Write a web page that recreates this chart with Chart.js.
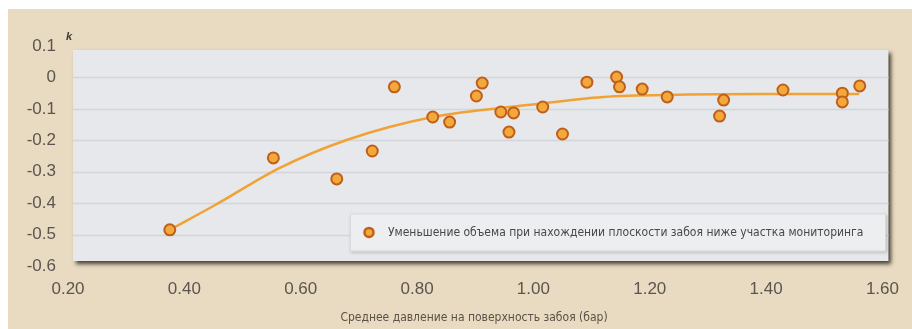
<!DOCTYPE html>
<html>
<head>
<meta charset="utf-8">
<script src="https://cdn.jsdelivr.net/npm/chart.js@4/dist/chart.umd.min.js"></script>
<style>
  html, body { margin: 0; padding: 0; background: #ffffff; }
  #wrap { position: relative; width: 912px; height: 329px; }
</style>
</head>
<body>
<div id="wrap"><canvas id="chart" width="912" height="329"></canvas></div>
<script>
// Measured points: mean face pressure (bar) vs. volume change coefficient k
const pressure = [0.375, 0.553, 0.662, 0.723, 0.761, 0.827, 0.856, 0.902, 0.912, 0.944,
                  0.958, 0.966, 1.016, 1.050, 1.092, 1.143, 1.148, 1.187, 1.230, 1.320,
                  1.327, 1.429, 1.531, 1.531, 1.561];
const volumeK  = [-0.485, -0.256, -0.323, -0.234, -0.030, -0.126, -0.142, -0.059, -0.018, -0.110,
                  -0.174, -0.113, -0.094, -0.180, -0.015, 0.001, -0.030, -0.037, -0.062, -0.123,
                  -0.072, -0.040, -0.050, -0.078, -0.027];

// Trend line through the cloud
const trendX = [0.375, 0.453, 0.565, 0.679, 0.827, 0.99, 1.12, 1.25, 1.40, 1.56];
const trendK = [-0.485, -0.406, -0.287, -0.199, -0.126, -0.088, -0.062, -0.055, -0.053, -0.053];

const xTicks = [0.2, 0.4, 0.6, 0.8, 1.0, 1.2, 1.4, 1.6];
const yTicks = [0.1, 0, -0.1, -0.2, -0.3, -0.4, -0.5, -0.6];

const seriesLabel = 'Уменьшение объема при нахождении плоскости забоя ниже участка мониторинга';
const xTitle = 'Среднее давление на поверхность забоя (бар)';
const yUnit = 'k';

const BEIGE = '#e9dbc2';
const PLOT_BG = '#e6e8eb';
const GRID = '#d2d6db';
const TICK_COLOR = '#5b554e';
const POINT_FILL = '#f3a83c';
const POINT_EDGE = '#c05f1a';
const LINE_COLOR = '#f0a236';

// Page background, shadowed plot panel, grid lines, legend box and titles
const panelPlugin = {
  id: 'panel',
  beforeDraw(chart) {
    const { ctx, chartArea: a, scales } = chart;
    ctx.save();
    ctx.fillStyle = '#ffffff';
    ctx.fillRect(0, 0, chart.width, chart.height);
    ctx.fillStyle = BEIGE;
    ctx.fillRect(8, 9, chart.width - 8, chart.height - 9);

    const L = a.left + 5, R = a.right + 6, T = a.top + 4, B = a.bottom - 5;
    ctx.shadowColor = 'rgba(45,35,25,0.85)';
    ctx.shadowBlur = 4;
    ctx.shadowOffsetX = 3;
    ctx.shadowOffsetY = 3;
    ctx.fillStyle = PLOT_BG;
    ctx.fillRect(L, T, R - L, B - T);
    ctx.shadowColor = 'transparent';

    ctx.strokeStyle = GRID;
    ctx.lineWidth = 1.5;
    yTicks.forEach(v => {
      const y = scales.y.getPixelForValue(v);
      if (y <= T + 2 || y >= B - 2) return;
      ctx.beginPath();
      ctx.moveTo(L, Math.round(y) + 0.5);
      ctx.lineTo(R, Math.round(y) + 0.5);
      ctx.stroke();
    });
    ctx.restore();
  },
  afterDatasetsDraw(chart) {
    const { ctx, chartArea: a, scales } = chart;
    ctx.save();
    const bx = a.left + 282, by = scales.y.getPixelForValue(-0.42) + 4;
    const bw = 536, bh = 38;
    ctx.shadowColor = 'rgba(80,80,80,0.35)';
    ctx.shadowBlur = 3;
    ctx.shadowOffsetX = 1;
    ctx.shadowOffsetY = 2;
    ctx.fillStyle = '#eceef0';
    ctx.fillRect(bx, by, bw, bh);
    ctx.shadowColor = 'transparent';
    ctx.strokeStyle = '#d6d9dd';
    ctx.lineWidth = 1;
    ctx.strokeRect(bx + 0.5, by + 0.5, bw - 1, bh - 1);

    ctx.beginPath();
    ctx.arc(bx + 19, by + bh / 2, 4.5, 0, Math.PI * 2);
    ctx.fillStyle = POINT_FILL;
    ctx.fill();
    ctx.lineWidth = 2.5;
    ctx.strokeStyle = POINT_EDGE;
    ctx.stroke();

    ctx.fillStyle = '#4a4846';
    ctx.font = '12px "DejaVu Sans Condensed", "DejaVu Sans", sans-serif';
    ctx.textBaseline = 'middle';
    ctx.textAlign = 'left';
    ctx.fillText(seriesLabel, bx + 38, by + bh / 2);

    ctx.fillStyle = '#5a5249';
    ctx.font = '12px "DejaVu Sans Condensed", "DejaVu Sans", sans-serif';
    ctx.textAlign = 'center';
    ctx.fillText(xTitle, 474, 318);

    ctx.fillStyle = '#3e3a36';
    ctx.font = 'italic bold 11px "Liberation Sans", Arial, sans-serif';
    ctx.textAlign = 'left';
    ctx.fillText(yUnit, a.left - 2, a.top - 9);
    ctx.restore();
  }
};

new Chart(document.getElementById('chart'), {
  type: 'scatter',
  data: {
    datasets: [
      {
        label: seriesLabel,
        data: pressure.map((p, i) => ({ x: p, y: volumeK[i] })),
        backgroundColor: POINT_FILL,
        borderColor: POINT_EDGE,
        borderWidth: 2,
        pointRadius: 5.5,
        order: 0
      },
      {
        type: 'line',
        label: 'trend',
        data: trendX.map((p, i) => ({ x: p, y: trendK[i] })),
        borderColor: LINE_COLOR,
        borderWidth: 2.5,
        pointRadius: 0,
        fill: false,
        cubicInterpolationMode: 'monotone',
        order: 1
      }
    ]
  },
  options: {
    responsive: false,
    animation: false,
    layout: { padding: { left: 0, right: 20, top: 46, bottom: 0 } },
    plugins: { legend: { display: false }, tooltip: { enabled: false } },
    scales: {
      x: {
        type: 'linear',
        min: 0.2, max: 1.6,
        afterBuildTicks: s => { s.ticks = xTicks.map(v => ({ value: v })); },
        afterFit: s => { s.height = 63; },
        grid: { display: false, drawTicks: false },
        border: { display: false },
        ticks: {
          padding: 13,
          color: TICK_COLOR,
          font: { family: '"Liberation Sans", Arial, sans-serif', size: 17 },
          callback: v => Number(v).toFixed(2),
          maxRotation: 0
        }
      },
      y: {
        type: 'linear',
        min: -0.6, max: 0.1,
        afterBuildTicks: s => { s.ticks = yTicks.map(v => ({ value: v })); },
        afterFit: s => { s.width = 68; },
        grid: { display: false, drawTicks: false },
        border: { display: false },
        ticks: {
          padding: 12,
          color: TICK_COLOR,
          font: { family: '"Liberation Sans", Arial, sans-serif', size: 17 },
          callback: v => { const r = Math.round(v * 10) / 10; return r === 0 ? '0' : r.toFixed(1); }
        }
      }
    }
  },
  plugins: [panelPlugin]
});
</script>
</body>
</html>
